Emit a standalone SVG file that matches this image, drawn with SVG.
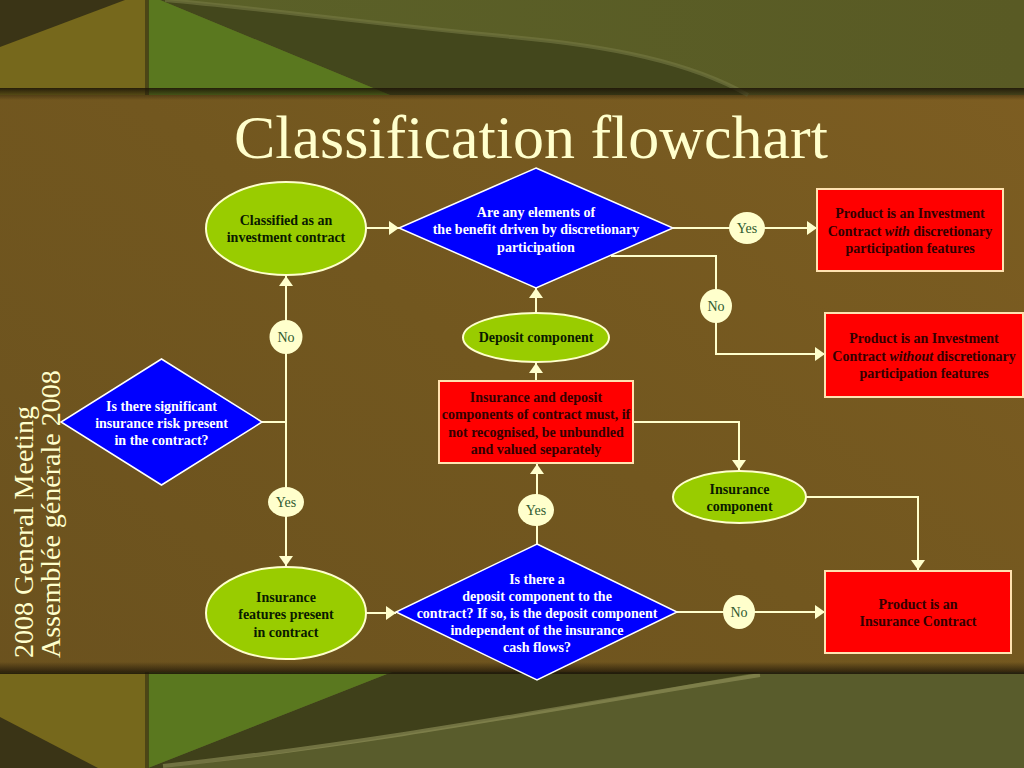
<svg xmlns="http://www.w3.org/2000/svg" width="1024" height="768" viewBox="0 0 1024 768">
<defs>
<linearGradient id="bgMid" x1="1" y1="0" x2="0" y2="1">
<stop offset="0" stop-color="#7e5e22"/>
<stop offset="0.5" stop-color="#72571f"/>
<stop offset="1" stop-color="#6a511e"/>
</linearGradient>
<linearGradient id="shadowDown" x1="0" y1="0" x2="0" y2="1">
<stop offset="0" stop-color="#1e1608" stop-opacity="0.9"/>
<stop offset="1" stop-color="#1e1608" stop-opacity="0"/>
</linearGradient>
<linearGradient id="shadowUp" x1="0" y1="1" x2="0" y2="0">
<stop offset="0" stop-color="#1e1608" stop-opacity="0.9"/>
<stop offset="1" stop-color="#1e1608" stop-opacity="0"/>
</linearGradient>
<linearGradient id="olive" x1="0" y1="0" x2="1" y2="0">
<stop offset="0" stop-color="#5b6229"/>
<stop offset="1" stop-color="#595a24"/>
</linearGradient>
<marker id="arr" viewBox="0 0 10 14" refX="10" refY="7" markerWidth="10" markerHeight="14" markerUnits="userSpaceOnUse" orient="auto">
<path d="M0,0 L10,7 L0,14 z" fill="#ffffcc"/>
</marker>
<style>
.ell{fill:#99cc00;stroke:#ffffcc;stroke-width:2}
.dia{fill:#0000ff;stroke:#ffffff;stroke-width:1.5}
.box{fill:#ff0000;stroke:#ffe2b0;stroke-width:2}
.t{font-family:"Liberation Serif","Times New Roman",serif;font-size:14px;font-weight:bold;text-anchor:middle}
.te{fill:#0a1a00}
.td{fill:#ffffff}
.tb{fill:#330000}
.con{fill:none;stroke:#ffffcc;stroke-width:2}
.badge{fill:#ffffcc}
.bt{font-family:"Liberation Serif","Times New Roman",serif;font-size:14px;fill:#2f5a2f;text-anchor:middle}
.title{font-family:"Liberation Serif","Times New Roman",serif;font-size:62px;fill:#ffffcc;text-anchor:middle}
.side{font-family:"Liberation Serif","Times New Roman",serif;font-size:28px;fill:#ffffcc}
</style>
</defs>

<g id="background">
<rect x="0" y="0" width="1024" height="768" fill="url(#bgMid)"/>
<!-- top band -->
<rect x="0" y="0" width="1024" height="95" fill="url(#olive)"/>
<path d="M160,0 L390,95 L748,95 C690,62 610,46 512,37 C380,25 260,8 165,0 Z" fill="#43471c"/>
<path d="M165,0 C260,8 380,25 512,37 C610,46 690,62 748,95" fill="none" stroke="#767a44" stroke-width="4" opacity="0.6"/>
<polygon points="148,0 160,0 390,95 148,95" fill="#5a781f"/>
<rect x="0" y="0" width="148" height="95" fill="#76681c"/>
<polygon points="0,0 125,0 0,47" fill="#3a3416"/>
<rect x="145" y="0" width="4" height="95" fill="#3a3614" opacity="0.7"/>
<rect x="0" y="88" width="1024" height="12" fill="url(#shadowDown)"/>
<!-- bottom band -->
<rect x="0" y="672" width="1024" height="96" fill="#595c2c"/>
<path d="M392,672 L760,672 C600,700 400,740 163,768 L148,768 Z" fill="#3f401a"/>
<polygon points="148,672 392,672 148,768" fill="#5a781f"/>
<path d="M163,766 C400,740 600,700 760,675" fill="none" stroke="#9a9a62" stroke-width="4" opacity="0.55"/>
<rect x="0" y="672" width="148" height="96" fill="#76681c"/>
<polygon points="0,717 0,768 98,768" fill="#3a3416"/>
<rect x="145" y="672" width="4" height="96" fill="#3a3614" opacity="0.7"/>
<rect x="0" y="662" width="1024" height="12" fill="url(#shadowUp)"/>
</g>

<text class="title" x="531" y="158">Classification flowchart</text>

<g id="sidebar">
<text class="side" transform="translate(33,658) rotate(-90)">2008 General Meeting</text>
<text class="side" transform="translate(60,658) rotate(-90)">Assemblée générale 2008</text>
</g>

<g id="connectors">
<path class="con" d="M366,228 H399" marker-end="url(#arr)"/>
<path class="con" d="M673,228 H817" marker-end="url(#arr)"/>
<path class="con" d="M611,256 H716 V354 H825" marker-end="url(#arr)"/>
<path class="con" d="M536,313 V288" marker-end="url(#arr)"/>
<path class="con" d="M536,381 V363" marker-end="url(#arr)"/>
<path class="con" d="M633,422 H739 V470" marker-end="url(#arr)"/>
<path class="con" d="M806,497 H918 V570" marker-end="url(#arr)"/>
<path class="con" d="M262,422 H286"/>
<path class="con" d="M286,423 V276" marker-end="url(#arr)"/>
<path class="con" d="M286,421 V566" marker-end="url(#arr)"/>
<path class="con" d="M366,613 H396" marker-end="url(#arr)"/>
<path class="con" d="M537,544 V464" marker-end="url(#arr)"/>
<path class="con" d="M677,612 H825" marker-end="url(#arr)"/>
<ellipse class="badge" cx="747" cy="228" rx="18" ry="16"/>
<text class="bt" x="747" y="233">Yes</text>
<ellipse class="badge" cx="716" cy="306" rx="16" ry="17"/>
<text class="bt" x="716" y="311">No</text>
<ellipse class="badge" cx="286" cy="337" rx="16.5" ry="17"/>
<text class="bt" x="286" y="342">No</text>
<ellipse class="badge" cx="286" cy="502" rx="18" ry="15"/>
<text class="bt" x="286" y="507">Yes</text>
<ellipse class="badge" cx="536" cy="510" rx="18" ry="16"/>
<text class="bt" x="536" y="515">Yes</text>
<ellipse class="badge" cx="739" cy="612" rx="16" ry="17"/>
<text class="bt" x="739" y="617">No</text>
</g>

<g id="n-classified">
<ellipse class="ell" cx="286" cy="228.5" rx="80" ry="46.5"/>
<text class="t te" x="286" y="225">Classified as an</text>
<text class="t te" x="286" y="242">investment contract</text>
</g>

<g id="n-discretionary">
<polygon class="dia" points="536,168 673,228 536,288 399,228"/>
<text class="t td" x="536" y="217">Are any elements of</text>
<text class="t td" x="536" y="234">the benefit driven by discretionary</text>
<text class="t td" x="536" y="252">participation</text>
</g>

<g id="n-with">
<rect class="box" x="817" y="189" width="186" height="82"/>
<text class="t tb" x="910" y="218">Product is an Investment</text>
<text class="t tb" x="910" y="236">Contract <tspan font-style="italic">with</tspan> discretionary</text>
<text class="t tb" x="910" y="253">participation features</text>
</g>

<g id="n-without">
<rect class="box" x="825" y="313" width="198" height="84"/>
<text class="t tb" x="924" y="343">Product is an Investment</text>
<text class="t tb" x="924" y="361">Contract <tspan font-style="italic">without</tspan> discretionary</text>
<text class="t tb" x="924" y="378">participation features</text>
</g>

<g id="n-deposit">
<ellipse class="ell" cx="536" cy="337.5" rx="73" ry="24.5"/>
<text class="t te" x="536" y="342">Deposit component</text>
</g>

<g id="n-unbundle">
<rect class="box" x="439" y="381" width="194" height="82"/>
<text class="t tb" x="536" y="402">Insurance and deposit</text>
<text class="t tb" x="536" y="419">components of contract must, if</text>
<text class="t tb" x="536" y="437">not recognised, be unbundled</text>
<text class="t tb" x="536" y="454">and valued separately</text>
</g>

<g id="n-inscomp">
<ellipse class="ell" cx="739.5" cy="497" rx="66.5" ry="26"/>
<text class="t te" x="739.5" y="494">Insurance</text>
<text class="t te" x="739.5" y="511">component</text>
</g>

<g id="n-inscontract">
<rect class="box" x="825" y="571" width="186" height="82"/>
<text class="t tb" x="918" y="609">Product is an</text>
<text class="t tb" x="918" y="626">Insurance Contract</text>
</g>

<g id="n-risk">
<polygon class="dia" points="161.5,359 262,422 161.5,485 61,422"/>
<text class="t td" x="161.5" y="411">Is there significant</text>
<text class="t td" x="161.5" y="428">insurance risk present</text>
<text class="t td" x="161.5" y="445">in the contract?</text>
</g>

<g id="n-features">
<ellipse class="ell" cx="286" cy="613" rx="80" ry="46"/>
<text class="t te" x="286" y="602">Insurance</text>
<text class="t te" x="286" y="619">features present</text>
<text class="t te" x="286" y="637">in contract</text>
</g>

<g id="n-depositq">
<polygon class="dia" points="537,544 677,612 537,680 396,612"/>
<text class="t td" x="537" y="584">Is there a</text>
<text class="t td" x="537" y="601">deposit component to the</text>
<text class="t td" x="537" y="618">contract? If so, is the deposit component</text>
<text class="t td" x="537" y="635">independent of the insurance</text>
<text class="t td" x="537" y="652">cash flows?</text>
</g>
</svg>
